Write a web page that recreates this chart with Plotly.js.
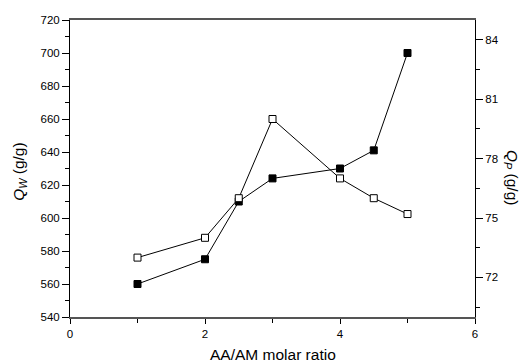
<!DOCTYPE html>
<html>
<head>
<meta charset="utf-8">
<script src="https://cdn.plot.ly/plotly-3.0.1.min.js"></script>
<style>html,body{margin:0;padding:0;background:#fff;}#chart{width:528px;height:363px;}</style>
</head>
<body>
<div id="chart"></div>
<script>
const ratio = [1, 2, 2.5, 3, 4, 4.5, 5];
const qw = [560, 575, 610, 624, 630, 641, 700];
const qp = [73.0, 74.0, 76.0, 80.0, 77.0, 76.0, 75.2];
const xTitle = 'AA/AM molar ratio';
const leftTitle = '<i>Q</i><sub><i>W</i></sub> (g/g)';
const rightTitle = '<i>Q</i><sub><i>P</i></sub> (g/g)';

const fnt = {family: 'Liberation Sans, Arial, sans-serif', size: 11.5, color: '#000'};
const tfnt = {family: 'Liberation Sans, Arial, sans-serif', size: 15.5, color: '#000'};

const traces = [
  {x: ratio, y: qw, type: 'scatter', mode: 'lines+markers', yaxis: 'y',
   line: {color: '#000', width: 1},
   marker: {symbol: 'square', size: 7, color: '#000', line: {color: '#000', width: 1}},
   showlegend: false, cliponaxis: false},
  {x: ratio, y: qp, type: 'scatter', mode: 'lines+markers', yaxis: 'y2',
   line: {color: '#000', width: 1},
   marker: {symbol: 'square', size: 7, color: '#fff', line: {color: '#000', width: 1}},
   showlegend: false, cliponaxis: false}
];

const layout = {
  width: 528, height: 363,
  margin: {l: 70, r: 53, t: 20, b: 46},
  paper_bgcolor: '#fff', plot_bgcolor: '#fff',
  font: fnt,
  xaxis: {
    range: [0, 6], dtick: 2, tick0: 0,
    showgrid: false, zeroline: false,
    showline: true, linecolor: '#555', linewidth: 2, mirror: true,
    ticks: 'outside', ticklen: 5, tickcolor: '#000', tickwidth: 1,
    minor: {dtick: 1, ticks: 'outside', ticklen: 4, tickcolor: '#000'},
    tickfont: fnt
  },
  yaxis: {
    range: [540, 720], dtick: 20, tick0: 540,
    showgrid: false, zeroline: false,
    showline: true, linecolor: '#000', linewidth: 1,
    ticks: 'outside', ticklen: 7, tickcolor: '#000', tickwidth: 1,
    minor: {dtick: 10, ticks: 'outside', ticklen: 4, tickcolor: '#000'},
    tickfont: fnt
  },
  yaxis2: {
    range: [70, 85], dtick: 3, tick0: 72, overlaying: 'y', side: 'right',
    showgrid: false, zeroline: false,
    showline: true, linecolor: '#000', linewidth: 1,
    ticks: 'outside', ticklen: 7, tickcolor: '#000', tickwidth: 1,
    minor: {dtick: 1.5, tick0: 70.5, ticks: 'outside', ticklen: 4, tickcolor: '#000'},
    tickfont: fnt
  },
  annotations: [
    {text: xTitle, xref: 'paper', yref: 'paper', x: 0.5, y: -0.126, yanchor: 'middle', xanchor: 'center',
     showarrow: false, font: tfnt},
    {text: leftTitle, xref: 'paper', yref: 'paper', x: -0.125, y: 0.49, xanchor: 'center', yanchor: 'middle',
     textangle: -90, showarrow: false, font: tfnt},
    {text: rightTitle, xref: 'paper', yref: 'paper', x: 1.09, y: 0.47, xanchor: 'center', yanchor: 'middle',
     textangle: 90, showarrow: false, font: tfnt}
  ]
};

Plotly.newPlot('chart', traces, layout, {displayModeBar: false, staticPlot: true});
</script>
</body>
</html>
